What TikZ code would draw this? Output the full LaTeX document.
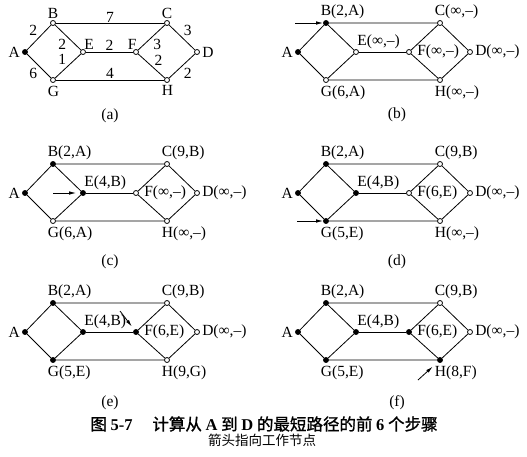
\documentclass[tikz,border=0pt]{standalone}
\usepackage{fontspec}
\setmainfont{Liberation Serif}
\newfontfamily\cjk[AutoFakeBold=1.2]{Noto Sans CJK SC}
\usetikzlibrary{arrows.meta}

\tikzset{
  tent/.style={circle,draw,fill=white,inner sep=0pt,minimum size=5pt},
  perm/.style={tent,fill=black},
  lbl/.style={inner sep=1pt,font=\fontsize{15.5}{17}\selectfont},
  lup/.style={label={[lbl,anchor=south west,xshift=-6.5pt]90:#1}},
  ldown/.style={label={[lbl,anchor=north west,xshift=-6.5pt,label distance=1.5pt]-90:#1}},
  lupr/.style={label={[lbl,anchor=south west,label distance=-1.5pt]90:#1}},
  lupl/.style={label={[lbl,anchor=south east,xshift=2pt,label distance=-1.5pt]90:#1}},
  lright/.style={label={[lbl,label distance=1pt]0:#1}},
  lfar/.style={label={[lbl,label distance=4pt]0:#1}},
  lleft/.style={label={[lbl,label distance=1pt]180:#1}},
  wt/.style={lbl,inner sep=1.5pt},
  ptr/.style={-{Latex[length=7pt,width=3.5pt]},line width=.8pt},
}

\newcommand{\gedges}[1]{%
  \draw (A#1) -- (B#1) -- (C#1) -- (D#1) -- (H#1) -- (G#1) -- (A#1);
  \draw (B#1) -- (E#1) -- (G#1);
  \draw (E#1) -- (F#1);
  \draw (C#1) -- (F#1) -- (H#1);
}

\begin{document}
\begin{tikzpicture}[x=1pt,y=-1pt,line width=.8pt]
  \useasboundingbox (0,0) rectangle (527,456);
  % (a)
  \node[perm,lleft=A] (Aa) at (25,52) {};
  \node[tent,lup=B] (Ba) at (53,23) {};
  \node[tent,ldown=G] (Ga) at (53,80) {};
  \node[tent,lupr=E] (Ea) at (83,52) {};
  \node[tent,lupl=F] (Fa) at (136,52) {};
  \node[tent,lup=C] (Ca) at (167,23) {};
  \node[tent,ldown=H] (Ha) at (167,80) {};
  \node[tent,lright=D] (Da) at (197,52) {};
  \draw (Aa) -- node[wt,above left] {2} (Ba);
  \draw (Aa) -- node[wt,below left] {6} (Ga);
  \draw (Ba) -- node[wt,below left] {2} (Ea);
  \draw (Ga) -- node[wt,above left,pos=.5] {1} (Ea);
  \draw (Ba) -- node[wt,above,inner sep=.5pt] {7} (Ca);
  \draw (Ea) -- node[wt,above] {2} (Fa);
  \draw (Ga) -- node[wt,above] {4} (Ha);
  \draw (Ca) -- node[wt,below right] {3} (Fa);
  \draw (Fa) -- node[wt,above right,pos=.55] {2} (Ha);
  \draw (Ca) -- node[wt,above right] {3} (Da);
  \draw (Ha) -- node[wt,below right] {2} (Da);
  \node[lbl] (capa) at (110,116) {(a)};
  % (b)
  \begin{scope}[shift={(273,0)}]
    \node[perm,lleft=A] (Ab) at (25,52) {};
    \node[perm,lup={B(2,A)}] (Bb) at (53,23) {};
    \node[tent,ldown={G(6,A)}] (Gb) at (53,80) {};
    \node[tent,lupr={E(∞,–)}] (Eb) at (83,52) {};
    \node[tent,lfar={F(∞,–)}] (Fb) at (136,52) {};
    \node[tent,lup={C(∞,–)}] (Cb) at (167,23) {};
    \node[tent,ldown={H(∞,–)}] (Hb) at (167,80) {};
    \node[tent,lright={D(∞,–)}] (Db) at (197,52) {};
    \gedges{b}
    \coordinate (tailb) at (22,23);
    \draw[ptr] (tailb) -- (Bb);
    \node[lbl] (capb) at (124,115) {(b)};
  \end{scope}
  % (c)
  \begin{scope}[shift={(0,141)}]
    \node[perm,lleft=A] (Ac) at (25,52) {};
    \node[perm,lup={B(2,A)}] (Bc) at (53,23) {};
    \node[tent,ldown={G(6,A)}] (Gc) at (53,80) {};
    \node[perm,lupr={E(4,B)}] (Ec) at (83,52) {};
    \node[tent,lfar={F(∞,–)}] (Fc) at (136,52) {};
    \node[tent,lup={C(9,B)}] (Cc) at (167,23) {};
    \node[tent,ldown={H(∞,–)}] (Hc) at (167,80) {};
    \node[tent,lright={D(∞,–)}] (Dc) at (197,52) {};
    \gedges{c}
    \coordinate (tailc) at (53,52);
    \draw[ptr,shorten >=4pt] (tailc) -- (Ec);
    \node[lbl] (capc) at (110,121) {(c)};
  \end{scope}
  % (d)
  \begin{scope}[shift={(273,141)}]
    \node[perm,lleft=A] (Ad) at (25,52) {};
    \node[perm,lup={B(2,A)}] (Bd) at (53,23) {};
    \node[perm,ldown={G(5,E)}] (Gd) at (53,80) {};
    \node[perm,lupr={E(4,B)}] (Ed) at (83,52) {};
    \node[tent,lfar={F(6,E)}] (Fd) at (136,52) {};
    \node[tent,lup={C(9,B)}] (Cd) at (167,23) {};
    \node[tent,ldown={H(∞,–)}] (Hd) at (167,80) {};
    \node[tent,lright={D(∞,–)}] (Dd) at (197,52) {};
    \gedges{d}
    \coordinate (taild) at (24,80);
    \draw[ptr] (taild) -- (Gd);
    \node[lbl] (capd) at (124,121) {(d)};
  \end{scope}
  % (e)
  \begin{scope}[shift={(0,280)}]
    \node[perm,lleft=A] (Ae) at (25,52) {};
    \node[perm,lup={B(2,A)}] (Be) at (53,23) {};
    \node[perm,ldown={G(5,E)}] (Ge) at (53,80) {};
    \node[perm,lupr={E(4,B)}] (Ee) at (83,52) {};
    \node[perm,lfar={F(6,E)}] (Fe) at (136,52) {};
    \node[tent,lup={C(9,B)}] (Ce) at (167,23) {};
    \node[tent,ldown={H(9,G)}] (He) at (167,80) {};
    \node[tent,lright={D(∞,–)}] (De) at (197,52) {};
    \gedges{e}
    \coordinate (taile) at (120,31);
    \draw[ptr,shorten >=4pt] (taile) -- (Fe);
    \node[lbl] (cape) at (110,123) {(e)};
  \end{scope}
  % (f)
  \begin{scope}[shift={(273,280)}]
    \node[perm,lleft=A] (Af) at (25,52) {};
    \node[perm,lup={B(2,A)}] (Bf) at (53,23) {};
    \node[perm,ldown={G(5,E)}] (Gf) at (53,80) {};
    \node[perm,lupr={E(4,B)}] (Ef) at (83,52) {};
    \node[perm,lfar={F(6,E)}] (Ff) at (136,52) {};
    \node[tent,lup={C(9,B)}] (Cf) at (167,23) {};
    \node[perm,ldown={H(8,F)}] (Hf) at (167,80) {};
    \node[tent,lright={D(∞,–)}] (Df) at (197,52) {};
    \gedges{f}
    \coordinate (tailf) at (145,100);
    \draw[ptr,shorten >=7pt] (tailf) -- (Hf);
    \node[lbl] (capf) at (124,123) {(f)};
  \end{scope}
  % caption
  \node[font=\cjk\bfseries\fontsize{16.5}{18}\selectfont] (title) at (264,424)
    {图 {\rmfamily 5-7}\hspace{1.2em}计算从 {\rmfamily A} 到 {\rmfamily D} 的最短路径的前 {\rmfamily 6} 个步骤};
  \node[font=\cjk\fontsize{13.5}{15}\selectfont] (subtitle) at (262,440) {箭头指向工作节点};
\end{tikzpicture}
\end{document}
